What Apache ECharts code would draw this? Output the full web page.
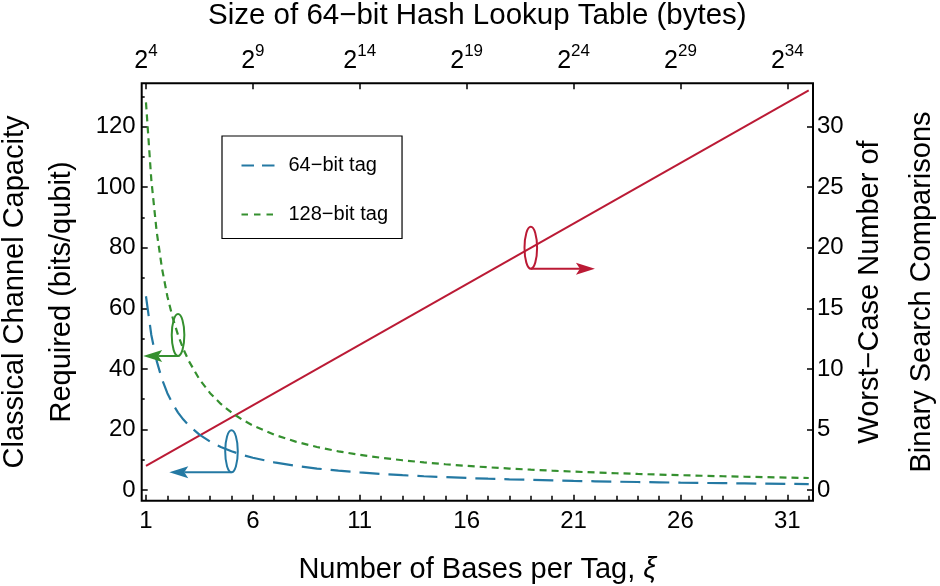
<!DOCTYPE html>
<html><head><meta charset="utf-8">
<script src="https://cdn.jsdelivr.net/npm/echarts@6/dist/echarts.min.js"></script>
<style>html,body{margin:0;padding:0;background:#fff}#c{width:940px;height:586px}</style>
</head><body><div id="c"></div>
<script>
// ---- data ----
const xiTicks = [1, 6, 11, 16, 21, 26, 31];
const xiMinorTicks = [1,2,3,4,5,6,7,8,9,10,11,12,13,14,15,16,17,18,19,20,21,22,23,24,25,26,27,28,29,30,31,32];
const topExponents = ['4', '9', '14', '19', '24', '29', '34'];
const leftTicks = [0, 20, 40, 60, 80, 100, 120];
const leftMinorTicks = [10, 30, 50, 70, 90, 110, 130];
const rightTicks = [0, 5, 10, 15, 20, 25, 30];

const xi = [1,1.25,1.5,1.75,2,2.25,2.5,2.75,3,3.5,4,4.5,5,5.5,6,7,8,9,10,11,12,13,14,15,16,17,18,19,20,21,22,23,24,25,26,27,28,29,30,31,32];
const cap64 = [64,51.2,42.67,36.57,32,28.44,25.6,23.27,21.33,18.29,16,14.22,12.8,11.64,10.67,9.14,8,7.11,6.4,5.82,5.33,4.92,4.57,4.27,4,3.76,3.56,3.37,3.2,3.05,2.91,2.78,2.67,2.56,2.46,2.37,2.29,2.21,2.13,2.06,2];
const cap128 = [128,102.4,85.33,73.14,64,56.89,51.2,46.55,42.67,36.57,32,28.44,25.6,23.27,21.33,18.29,16,14.22,12.8,11.64,10.67,9.85,9.14,8.53,8,7.53,7.11,6.74,6.4,6.1,5.82,5.57,5.33,5.12,4.92,4.74,4.57,4.41,4.27,4.13,4];
const xiSearch = [1, 32];
const comparisons = [2, 33];

// axis-indicator annotations: [xi of ellipse, value at ellipse, xi of arrow tip]
const annoRed = [19, 20, 22];
const annoGreen = [2.5, 51.2, 0.87];
const annoBlue = [5, 12.8, 2.09];

const seriesNames = ['64\u2212bit tag', '128\u2212bit tag'];

// ---- styling ----
const FONT = 'Liberation Sans';
const BLUE = '#2479a3';
const GREEN = '#35902f';
const RED = '#bb1a35';
const G = {left: 141.7, top: 83.3, right: 127, bottom: 85.3, outerBoundsMode: 'none', containLabel: false};
const XMIN = 0.8, XMAX = 32.2;
const LMIN = -3.5, LMAX = 134.3;

function zip(a, b) { return a.map((v, i) => [v, b[i]]); }

function annoRender(color) {
  return function (params, api) {
    const c = api.coord([api.value(0), api.value(1)]);
    const t = api.coord([api.value(2), api.value(1)]);
    const rx = 6.3, ry = 21;
    const by = c[1] + ry;
    const dir = t[0] > c[0] ? 1 : -1;
    const hl = 19, hw = 6, notch = 15;
    return {
      type: 'group',
      children: [
        {type: 'ellipse', shape: {cx: c[0], cy: c[1], rx: rx, ry: ry}, style: {fill: 'none', stroke: color, lineWidth: 2}},
        {type: 'line', shape: {x1: c[0], y1: by, x2: t[0] - dir * notch, y2: by}, style: {stroke: color, lineWidth: 2}},
        {type: 'polygon', shape: {points: [[t[0], by], [t[0] - dir * hl, by - hw], [t[0] - dir * notch, by], [t[0] - dir * hl, by + hw]]}, style: {fill: color}}
      ]
    };
  };
}

const tickStyle = {color: '#000', width: 1.5};
const noLine = {show: false, onZero: false};
const chart = echarts.init(document.getElementById('c'));
chart.setOption({
  animation: false,
  backgroundColor: '#fff',
  textStyle: {fontFamily: FONT, color: '#000'},
  grid: [
    Object.assign({show: true, borderColor: '#000', borderWidth: 2, backgroundColor: 'transparent'}, G),
    Object.assign({show: false}, G)
  ],
  legend: {
    orient: 'vertical', left: 222, top: 136,
    padding: [19.5, 14, 14, 18.5], itemGap: 29, itemWidth: 33, itemHeight: 24,
    borderColor: '#000', borderWidth: 1.2,
    itemStyle: {opacity: 0},
    textStyle: {fontSize: 20, fontFamily: FONT, color: '#000', padding: [0, 0, 0, 9]},
    data: [
      {name: seriesNames[0], lineStyle: {type: [12.5, 8]}},
      {name: seriesNames[1], lineStyle: {type: [6.5, 6]}}
    ]
  },
  xAxis: [
    {
      gridIndex: 0, type: 'value', position: 'bottom', min: XMIN, max: XMAX,
      axisLine: noLine, splitLine: {show: false},
      axisTick: {show: true, inside: true, length: 6, lineStyle: tickStyle, customValues: xiTicks},
      axisLabel: {customValues: xiTicks, fontSize: 24, color: '#000', margin: 9, fontFamily: FONT},
      name: 'Number of Bases per Tag, {i|\u03BE}', nameLocation: 'middle', nameGap: 55, nameMoveOverlap: false,
      nameTextStyle: {fontSize: 29, fontFamily: FONT, color: '#000', rich: {i: {fontSize: 29, fontStyle: 'italic', fontFamily: FONT}}}
    },
    {
      gridIndex: 0, type: 'value', position: 'top', min: XMIN, max: XMAX,
      axisLine: noLine, splitLine: {show: false},
      axisTick: {show: true, inside: true, length: 6, lineStyle: tickStyle, customValues: xiTicks},
      axisLabel: {
        customValues: xiTicks, margin: 10, fontFamily: FONT, color: '#000',
        formatter: function (v) { return '{b|2}{s|' + topExponents[xiTicks.indexOf(v)] + '}'; },
        rich: {
          b: {fontSize: 25, lineHeight: 30, verticalAlign: 'bottom', fontFamily: FONT, color: '#000'},
          s: {fontSize: 17, lineHeight: 17, verticalAlign: 'top', fontFamily: FONT, color: '#000'}
        }
      },
      name: 'Size of 64\u2212bit Hash Lookup Table (bytes)', nameLocation: 'middle', nameGap: 52, nameMoveOverlap: false,
      nameTextStyle: {fontSize: 29.5, fontFamily: FONT, color: '#000'}
    },
    {
      gridIndex: 1, type: 'value', position: 'bottom', min: XMIN, max: XMAX,
      axisLine: noLine, splitLine: {show: false}, axisLabel: {show: false},
      axisTick: {show: true, inside: true, length: 5, lineStyle: tickStyle, customValues: xiMinorTicks}
    }
  ],
  yAxis: [
    {
      gridIndex: 0, type: 'value', position: 'left', min: LMIN, max: LMAX,
      axisLine: noLine, splitLine: {show: false},
      axisTick: {show: true, inside: true, length: 6, lineStyle: tickStyle, customValues: leftTicks},
      axisLabel: {customValues: leftTicks, fontSize: 24, color: '#000', margin: 6, fontFamily: FONT},
      name: 'Classical Channel Capacity\nRequired (bits/qubit)', nameLocation: 'middle', nameRotate: 90, nameGap: 56, nameMoveOverlap: false,
      nameTextStyle: {fontSize: 29, lineHeight: 47, fontFamily: FONT, color: '#000'}
    },
    {
      gridIndex: 0, type: 'value', position: 'right', min: LMIN / 4, max: LMAX / 4,
      axisLine: noLine, splitLine: {show: false},
      axisTick: {show: true, inside: true, length: 6, lineStyle: tickStyle, customValues: rightTicks},
      axisLabel: {customValues: rightTicks, fontSize: 24, color: '#000', margin: 4, fontFamily: FONT},
      name: 'Worst\u2212Case Number of\nBinary Search Comparisons', nameLocation: 'middle', nameRotate: 90, nameGap: 31, nameMoveOverlap: false,
      nameTextStyle: {fontSize: 29, lineHeight: 52, fontFamily: FONT, color: '#000'}
    },
    {
      gridIndex: 1, type: 'value', position: 'left', min: LMIN, max: LMAX,
      axisLine: noLine, splitLine: {show: false}, axisLabel: {show: false},
      axisTick: {show: true, inside: true, length: 3, lineStyle: tickStyle, customValues: leftMinorTicks}
    }
  ],
  series: [
    {
      name: seriesNames[0], type: 'line', xAxisIndex: 0, yAxisIndex: 0, data: zip(xi, cap64),
      symbol: 'none', smooth: false, color: BLUE,
      lineStyle: {color: BLUE, width: 2.2, type: [20, 9]}, z: 3
    },
    {
      name: seriesNames[1], type: 'line', xAxisIndex: 0, yAxisIndex: 0, data: zip(xi, cap128),
      symbol: 'none', smooth: false, color: GREEN,
      lineStyle: {color: GREEN, width: 2.2, type: [7, 5]}, z: 3
    },
    {
      name: 'comparisons', type: 'line', xAxisIndex: 0, yAxisIndex: 1, data: zip(xiSearch, comparisons),
      symbol: 'none', color: RED, lineStyle: {color: RED, width: 2}, z: 2
    },
    {type: 'custom', name: 'annoRed', xAxisIndex: 0, yAxisIndex: 1, data: [annoRed], renderItem: annoRender(RED), silent: true, z: 5},
    {type: 'custom', name: 'annoGreen', xAxisIndex: 0, yAxisIndex: 0, data: [annoGreen], renderItem: annoRender(GREEN), silent: true, z: 5},
    {type: 'custom', name: 'annoBlue', xAxisIndex: 0, yAxisIndex: 0, data: [annoBlue], renderItem: annoRender(BLUE), silent: true, z: 5}
  ]
});
</script>
</body></html>
